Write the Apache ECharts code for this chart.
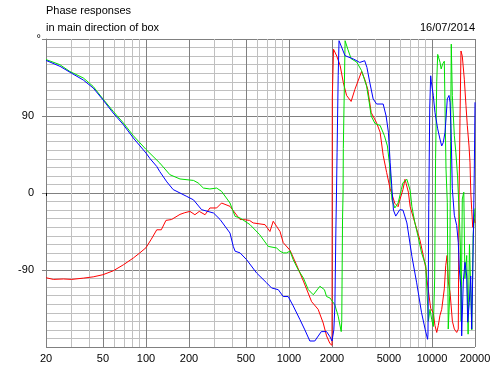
<!DOCTYPE html>
<html>
<head>
<meta charset="utf-8">
<script src="https://cdn.jsdelivr.net/npm/echarts@6/dist/echarts.min.js"></script>
<style>
html,body{margin:0;padding:0;background:#fff;}
#chart{width:499px;height:369px;}
</style>
</head>
<body>
<div id="chart"></div>
<script>
// ---- data (frequency in Hz, phase in degrees) ----
var redFreq = [20,22.5,26.5,30.2,36.5,42.8,50,59,69.4,81.6,90.6,100,109,119,128,132,138,151,173,187,203,220,236,259,280,312,338,387,420,455,478,530,562,680,736,776,820,866,912,1018,1130,1262,1440,1600,1736,1832,1935,2000,2010,2050,2090,2160,2280,2400,2530,2720,2890,3220,3386,3560,3760,4100,4340,4560,4820,5100,5500,5800,5960,6270,6480,6600,6840,7040,7600,8240,8720,9060,9220,9800,10220,10500,10800,11070,11380,11700,12200,12480,12760,13020,13380,13900,14340,14900,15280,15450,15710,15960,16300,16840,17300,17670,18160,18450,18700,18960,19280,19780,20000];
var redPhase = [-99,-101,-100.5,-101,-99.5,-98,-95.5,-91,-84,-76,-70,-64,-54,-43,-43,-45,-32,-31,-25,-23,-21.5,-25.4,-21.5,-25.4,-17.5,-17.5,-11.7,-15.6,-23.4,-31,-31,-32,-35,-37,-45,-33,-39,-45,-58,-67,-84,-103,-127,-136,-152,-167,-176,-178,112,168,166,160,149,129,114,107,121,142,133,121,94,82,71,44,24,5,-12,-16,-8,4,16,11,1,-16,-35,-55,-74,-88,-101,-135,-140,-155,-163,-155,-143,-136,-112,-85,-73,-104,-116,-150,-159,-163,-159,-11,87,166,160,133,102,79,55,36,0,-19,-40,-30,-35];

var greenFreq = [20,25,29.4,36.5,42.8,50,59,69.4,81.6,100,125,147,173,215,232,252,280,312,338,387,420,455,534,624,716,820,866,912,960,1018,1071,1160,1262,1366,1480,1646,1770,1832,1935,2093,2210,2320,2340,2370,2390,2400,2470,2580,2720,2980,3220,3490,3640,3760,4000,4340,4650,4880,5100,5250,5500,5800,6110,6270,6680,7040,7240,7600,8000,8460,9060,9440,9690,9960,10230,10450,10600,10800,10970,11380,11600,11900,12200,12400,12540,12800,13000,13300,13500,13650,13880,14340,14700,15100,15540,15800,16000,16300,16700,17000,17500,17900,18300,18700,19000,19400,20000];
var greenPhase = [156,150,142,134.4,124.5,110,95.5,82,67,51,35,21.4,16.4,14.7,11.7,5.8,4.7,5.8,1.9,-11.7,-27.3,-29.2,-37,-48.7,-62.4,-64.3,-68,-70,-70,-68,-78,-89.6,-99.4,-113,-119,-109,-113,-121,-122.7,-130.6,-144,-162,-150,-30,0,52,178,168,157,153,143,125,106,90,81,79,67,55,28,-7.8,-17.5,-11.7,4,12,16,3,-16,-35,-51,-70,-85,-150,-136,-148,-156,-100,40,130,162,153,145,151,154,80,28,-11,-159,-120,60,174,114,67,47,20,-27,-62,-150,-7,1,-100,-73,-165,-60,-58,-160,-50,-18];

var blueFreq = [20,25.1,30.2,36.5,42.8,50,59,69.4,81.6,100,107,119,125,140,155,193,215,245,297,330,387,408,420,455,506,594,698,756,842,912,988,1071,1194,1292,1400,1516,1684,1832,1935,2000,2060,2095,2130,2150,2170,2210,2240,2466,2826,3128,3386,3510,3677,3880,4100,4560,4780,4960,5100,5250,5380,5580,5960,6270,6680,7240,7820,8460,8980,9320,9380,9500,9650,9800,9900,10220,10500,10970,11380,11700,12000,12340,12540,12800,13160,13380,13600,13880,14340,14900,15280,15540,15960,16140,16560,17020,17500,17780,18240,18660,18960,19280,19780,20000];
var bluePhase = [155,148,140,132,122.7,109,93.5,80,64.3,46.8,40,31,25,13,4,-4,-8,-19.5,-23.4,-31,-46.8,-62.4,-68,-70,-78,-93.5,-105,-111,-113,-121,-121,-132,-148,-160,-173,-173,-162,-162,-168,-173,-160,-132,-41,0,47,137,178,160.5,156.6,152.6,154.6,146.8,129,110,104,104,90,71,36,5,-20,-27,-19.5,-20,-35,-74,-105,-140,-160,-171,-165,-15,100,137,130,114,94,75,63,55,59,71,86.5,110,114,106,75,5,-26,-38,-58,-89,-112,-167,-104,-81,-97,-151,-128,-97,-159,-97,28,106];

var xTickLabels = [20,50,100,200,500,1000,2000,5000,10000,20000];
var xGridLight = [30,40,60,70,80,90,300,400,600,700,800,900,3000,4000,6000,7000,8000,9000];
var xGridDark = [50,100,200,500,1000,2000,5000,10000,20000];
var yLabelValues = [-90,0,90,180];

function pairs(f, v) { return f.map(function (x, i) { return [x, v[i]]; }); }

var LIGHT = '#c0c0c0', DARK = '#808080';
var FONT = 'Liberation Sans, Arial, sans-serif';

var chart = echarts.init(document.getElementById('chart'), null, {renderer: 'canvas'});

var gridMarks = [];
xGridLight.forEach(function (x) { gridMarks.push({xAxis: x, lineStyle: {color: LIGHT}}); });
xGridDark.forEach(function (x) { gridMarks.push({xAxis: x, lineStyle: {color: DARK}}); });

// splitLine colours cycle per 10° tick: dark on multiples of 90°
var yLineColors = [DARK, LIGHT, LIGHT, LIGHT, LIGHT, LIGHT, LIGHT, LIGHT, LIGHT];

chart.setOption({
  animation: false,
  backgroundColor: '#ffffff',
  textStyle: {fontFamily: FONT},
  graphic: [
    {type: 'text', left: 46, top: 5, style: {text: 'Phase responses', font: '11px ' + FONT, fill: '#000'}},
    {type: 'text', left: 46, top: 22, style: {text: 'in main direction of box', font: '11px ' + FONT, fill: '#000'}},
    {type: 'text', right: 24, top: 22, style: {text: '16/07/2014', font: '11px ' + FONT, fill: '#000'}}
  ],
  grid: {left: 46, right: 24, top: 39, bottom: 22, containLabel: false},
  xAxis: {
    type: 'log', logBase: 10, min: 20, max: 20000,
    axisLine: {show: true, lineStyle: {color: DARK, width: 1}},
    axisTick: {show: true, length: 3, customValues: xTickLabels, lineStyle: {color: '#000'}},
    axisLabel: {show: true, customValues: xTickLabels, color: '#000', fontSize: 11, margin: 6, fontFamily: FONT,
      formatter: function (v) { return String(Math.round(v)); }},
    splitLine: {show: false},
    minorTick: {show: false}
  },
  yAxis: [
    {
      type: 'value', min: -180, max: 180, interval: 10,
      axisLine: {show: true, lineStyle: {color: DARK}},
      axisTick: {show: false},
      axisLabel: {show: false},
      splitLine: {show: true, lineStyle: {color: yLineColors, width: 1}}
    },
    {
      type: 'value', min: -180, max: 180, interval: 90, position: 'left', offset: 0,
      axisLine: {show: false},
      axisTick: {show: true, length: 4, customValues: yLabelValues, lineStyle: {color: DARK}},
      axisLabel: {color: '#000', fontSize: 11, margin: 5, fontFamily: FONT, customValues: yLabelValues,
        formatter: function (v) { return v === 180 ? '{d|°}' : '{n|' + v + '}'; },
        rich: {d: {fontSize: 11, padding: [0, 0, 0, 0]}, n: {fontSize: 11, padding: [0, 7, 0, 0]}}},
      splitLine: {show: false}
    }
  ],
  series: [
    {type: 'line', data: [], silent: true, z: 1,
      markLine: {silent: true, symbol: ['none', 'none'], z: 1, animation: false,
        label: {show: false}, lineStyle: {type: 'solid', width: 1}, emphasis: {disabled: true},
        data: gridMarks}},
    {name: 'red', type: 'line', data: pairs(redFreq, redPhase), showSymbol: false, symbol: 'none', z: 3,
      lineStyle: {color: '#ff0000', width: 1}, itemStyle: {color: '#ff0000'}},
    {name: 'green', type: 'line', data: pairs(greenFreq, greenPhase), showSymbol: false, symbol: 'none', z: 3,
      lineStyle: {color: '#00e000', width: 1}, itemStyle: {color: '#00e000'}},
    {name: 'blue', type: 'line', data: pairs(blueFreq, bluePhase), showSymbol: false, symbol: 'none', z: 3,
      lineStyle: {color: '#0000ff', width: 1}, itemStyle: {color: '#0000ff'}}
  ]
});
</script>
</body>
</html>
